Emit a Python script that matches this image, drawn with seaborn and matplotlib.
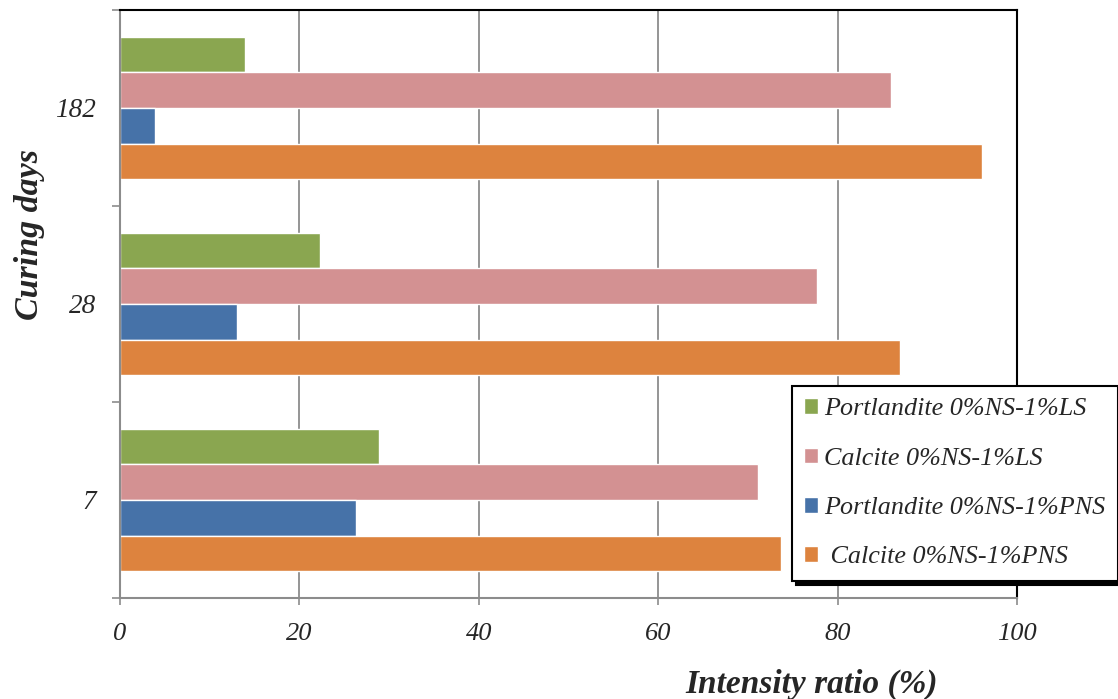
import matplotlib
matplotlib.use("Agg")
import matplotlib.pyplot as plt
import seaborn as sns
import pandas as pd
from matplotlib.ticker import FixedLocator, NullFormatter

# Curing ages and series values (intensity ratio, %)
curing_days = ["182", "28", "7"]
series = ["Portlandite 0%NS-1%LS", "Calcite 0%NS-1%LS",
          "Portlandite 0%NS-1%PNS", " Calcite 0%NS-1%PNS"]
portlandite_ls = [13.9, 22.3, 28.9]
calcite_ls = [86.0, 77.7, 71.1]
portlandite_pns = [3.9, 13.0, 26.3]
calcite_pns = [96.1, 87.0, 73.7]
x_ticks = [0, 20, 40, 60, 80, 100]

colors = ["#8aa650", "#d39192", "#4672a8", "#dd833e"]

rows = []
for name, vals in zip(series, [portlandite_ls, calcite_ls, portlandite_pns, calcite_pns]):
    for day, v in zip(curing_days, vals):
        rows.append({"day": day, "series": name, "value": v})
df = pd.DataFrame(rows)

sns.set_theme(style="white")
plt.rcParams["font.family"] = ["Liberation Serif", "DejaVu Serif"]

fig = plt.figure(figsize=(11.18, 6.99), dpi=100)
ax = fig.add_axes([0.1073, 0.1445, 0.8024, 0.8412])

sns.barplot(data=df, x="value", y="day", hue="series", order=curing_days,
            hue_order=series, palette=colors, orient="h", width=0.725,
            gap=0, saturation=1, errorbar=None, ax=ax, legend=True)

ax.set_xlim(0, 100)
ax.set_ylim(2.5, -0.5)

# vertical grid
ax.set_xticks(x_ticks)
ax.set_xticklabels([str(t) for t in x_ticks], fontsize=19, style="italic")
ax.xaxis.grid(True, color="#8c8c8c", linewidth=1.3)
ax.set_axisbelow(True)
ax.tick_params(axis="x", direction="out", length=5, width=1.2, color="#8c8c8c",
               pad=13, bottom=True)

# category labels between group-boundary tick marks
ax.yaxis.set_major_locator(FixedLocator([-0.5, 0.5, 1.5, 2.5]))
ax.yaxis.set_major_formatter(NullFormatter())
ax.yaxis.set_minor_locator(FixedLocator([0, 1, 2]))
ax.set_yticklabels(curing_days, minor=True, fontsize=19.5, style="italic")
ax.tick_params(axis="y", which="major", direction="out", length=6, width=1.2,
               color="#8c8c8c", left=True)
ax.tick_params(axis="y", which="minor", length=0, pad=17)

for side in ["left", "bottom"]:
    ax.spines[side].set_color("#8c8c8c")
    ax.spines[side].set_linewidth(1.5)
for side in ["top", "right"]:
    ax.spines[side].set_color("black")
    ax.spines[side].set_linewidth(1.5)
    ax.spines[side].set_visible(True)

ax.set_xlabel("")
ax.set_ylabel("")
fig.text(0.726, 0.009, "Intensity ratio (%)", fontsize=24, fontweight="bold",
         style="italic", ha="center", va="baseline")
fig.text(0.026, 0.665, "Curing days", fontsize=24.5, fontweight="bold",
         style="italic", rotation=90, ha="center", va="center")

leg = ax.legend(loc="upper left", bbox_to_anchor=(0.708, 0.448),
                bbox_transform=fig.transFigure, frameon=True, fancybox=False,
                shadow={"color": "black", "alpha": 1, "ox": 3, "oy": -3},
                prop={"size": 18.8, "style": "italic"},
                handlelength=0.55, handleheight=0.55, handletextpad=0.22,
                labelspacing=1.04, borderpad=0.48, borderaxespad=0)
leg.get_frame().set_edgecolor("black")
leg.get_frame().set_linewidth(1.5)
leg.get_frame().set_facecolor("white")

fig.savefig("out.png", dpi=100)
